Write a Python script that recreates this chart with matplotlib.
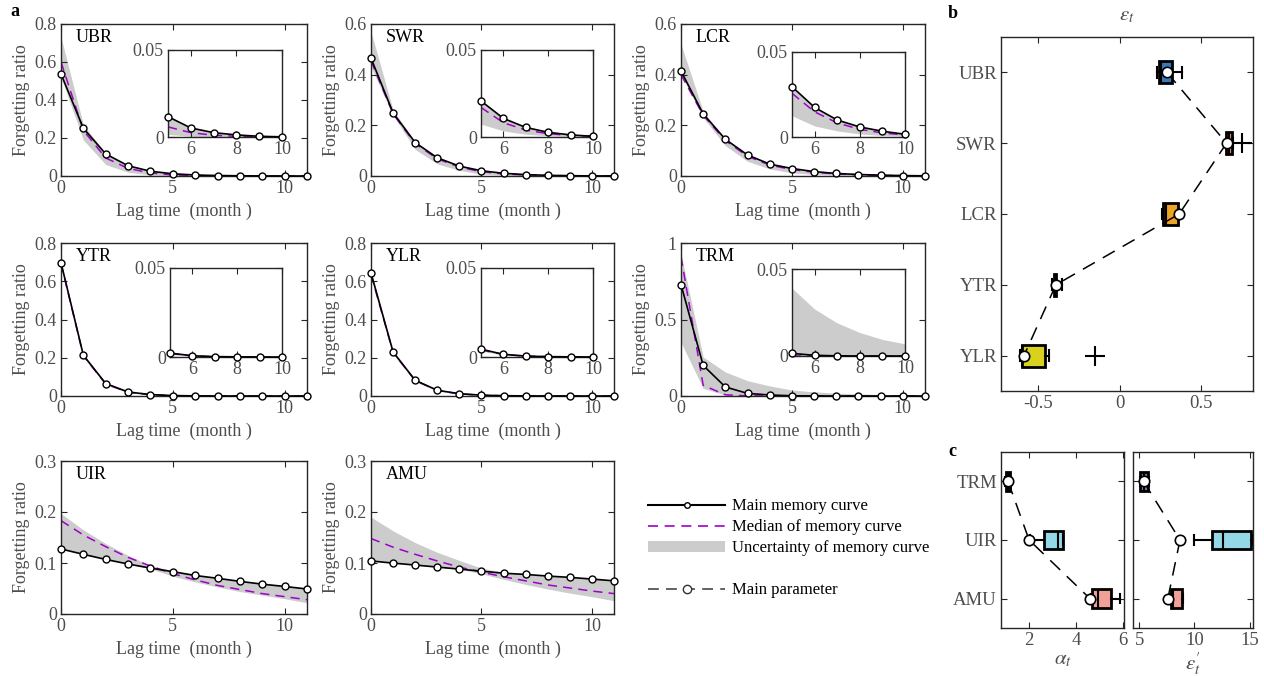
import numpy as np
import matplotlib
matplotlib.use('Agg')
import matplotlib.pyplot as plt
from matplotlib.lines import Line2D
from matplotlib.patches import Patch
from matplotlib.ticker import FuncFormatter

plt.rcParams['font.family'] = ['Liberation Serif', 'DejaVu Serif']
plt.rcParams['mathtext.fontset'] = 'stix'
plt.rcParams['axes.edgecolor'] = '#262626'
plt.rcParams['axes.linewidth'] = 1.0

TXT = '#4d4d4d'
BAND = '#cccccc'
PURPLE = '#a000c8'

months = np.arange(12)

# ---- panel a: memory curves (main, median, band low, band high) ----
ubr_main = [0.537, 0.251, 0.116, 0.054, 0.025, 0.0117, 0.0052, 0.0025, 0.0012, 0.0004, 0.0001, 0.0]
ubr_med = [0.60, 0.240, 0.095, 0.040, 0.016, 0.0058, 0.0025, 0.0010, 0.0004, 0.0002, 0.0001, 0.0]
ubr_lo = [0.52, 0.19, 0.06, 0.02, 0.006, 0.0015, 0.0004, 0.0001, 0.0, 0.0, 0.0, 0.0]
ubr_hi = [0.73, 0.27, 0.12, 0.056, 0.026, 0.012, 0.0055, 0.0026, 0.0012, 0.0005, 0.0002, 0.0001]

swr_main = [0.465, 0.249, 0.132, 0.072, 0.039, 0.0207, 0.0107, 0.0055, 0.0027, 0.0012, 0.0004, 0.0002]
swr_med = [0.455, 0.245, 0.128, 0.068, 0.035, 0.017, 0.0082, 0.0040, 0.0019, 0.0009, 0.0004, 0.0002]
swr_lo = [0.43, 0.24, 0.105, 0.048, 0.022, 0.0074, 0.0035, 0.0016, 0.0007, 0.0003, 0.0001, 0.0]
swr_hi = [0.57, 0.26, 0.135, 0.074, 0.040, 0.021, 0.011, 0.0056, 0.0028, 0.0013, 0.0005, 0.0002]

lcr_main = [0.414, 0.245, 0.145, 0.083, 0.047, 0.0296, 0.0174, 0.0100, 0.0059, 0.0034, 0.0016, 0.0007]
lcr_med = [0.40, 0.240, 0.140, 0.078, 0.043, 0.0257, 0.0148, 0.0083, 0.0045, 0.0024, 0.0012, 0.0006]
lcr_lo = [0.40, 0.23, 0.12, 0.058, 0.028, 0.0125, 0.0065, 0.0036, 0.0018, 0.0009, 0.0005, 0.0002]
lcr_hi = [0.52, 0.255, 0.146, 0.084, 0.048, 0.0297, 0.0175, 0.0101, 0.0060, 0.0035, 0.0017, 0.0008]

ytr_main = [0.697, 0.213, 0.065, 0.021, 0.0075, 0.0022, 0.0007, 0.0002, 0.0001, 0.0, 0.0, 0.0]
ytr_med = [0.693, 0.210, 0.063, 0.020, 0.0068, 0.0020, 0.0006, 0.0002, 0.0001, 0.0, 0.0, 0.0]
ytr_lo = [0.685, 0.203, 0.058, 0.017, 0.005, 0.0014, 0.0004, 0.0001, 0.0, 0.0, 0.0, 0.0]
ytr_hi = [0.705, 0.220, 0.070, 0.024, 0.0085, 0.0027, 0.0009, 0.0003, 0.0001, 0.0, 0.0, 0.0]

ylr_main = [0.643, 0.230, 0.082, 0.030, 0.012, 0.0044, 0.0015, 0.0005, 0.0002, 0.0001, 0.0, 0.0]
ylr_med = [0.635, 0.228, 0.081, 0.029, 0.011, 0.0040, 0.0014, 0.0005, 0.0002, 0.0001, 0.0, 0.0]
ylr_lo = [0.625, 0.220, 0.075, 0.026, 0.0095, 0.0033, 0.0011, 0.0004, 0.0001, 0.0, 0.0, 0.0]
ylr_hi = [0.655, 0.238, 0.088, 0.033, 0.013, 0.0050, 0.0018, 0.0006, 0.0002, 0.0001, 0.0, 0.0]

trm_main = [0.728, 0.200, 0.059, 0.017, 0.0065, 0.0015, 0.0004, 0.0001, 0.0, 0.0, 0.0, 0.0]
trm_med = [0.91, 0.070, 0.008, 0.001, 0.0001, 0.0, 0.0, 0.0, 0.0, 0.0, 0.0, 0.0]
trm_lo = [0.35, 0.05, 0.006, 0.0008, 0.0001, 0.0, 0.0, 0.0, 0.0, 0.0, 0.0, 0.0]
trm_hi = [0.93, 0.255, 0.157, 0.100, 0.066, 0.039, 0.027, 0.019, 0.0135, 0.0095, 0.007, 0.005]

uir_main = [0.1275, 0.117, 0.107, 0.098, 0.090, 0.083, 0.0755, 0.070, 0.064, 0.0585, 0.054, 0.049]
uir_med = [0.183, 0.155, 0.132, 0.111, 0.094, 0.079, 0.067, 0.056, 0.048, 0.040, 0.034, 0.028]
uir_lo = [0.1275, 0.117, 0.107, 0.098, 0.089, 0.074, 0.063, 0.053, 0.044, 0.037, 0.030, 0.022]
uir_hi = [0.197, 0.165, 0.138, 0.115, 0.095, 0.085, 0.077, 0.071, 0.065, 0.059, 0.055, 0.050]

amu_main = [0.104, 0.0998, 0.096, 0.092, 0.088, 0.084, 0.080, 0.0776, 0.0744, 0.0718, 0.0685, 0.065]
amu_med = [0.148, 0.131, 0.117, 0.104, 0.092, 0.082, 0.073, 0.065, 0.057, 0.051, 0.045, 0.040]
amu_lo = [0.104, 0.0998, 0.096, 0.092, 0.088, 0.079, 0.068, 0.058, 0.049, 0.041, 0.034, 0.026]
amu_hi = [0.190, 0.163, 0.140, 0.121, 0.105, 0.090, 0.082, 0.078, 0.075, 0.072, 0.069, 0.066]

# ---- panel b: epsilon_t ----
b_names = ['UBR', 'SWR', 'LCR', 'YTR', 'YLR']
b_colors = ['#3a78b8', '#f08a78', '#eda323', '#222222', '#d8d21e']
b_q1 = [0.240, 0.652, 0.265, -0.402, -0.600]
b_med = [0.256, 0.672, 0.283, -0.395, -0.595]
b_q3 = [0.320, 0.688, 0.355, -0.388, -0.455]
b_lo = [0.230, 0.650, 0.260, -0.415, -0.610]
b_hi = [0.385, 0.695, 0.360, -0.350, -0.430]
b_fliers = [[], [0.75], [], [], [-0.15]]
b_main = [0.290, 0.655, 0.365, -0.390, -0.585]

# ---- panel c: alpha_t and epsilon'_t ----
c_names = ['TRM', 'UIR', 'AMU']
c_colors = ['#2a2a2a', '#94d8e8', '#f0a096']
c2_colors = ['#6b7b9b', '#94d8e8', '#f0a096']
ca_q1 = [1.00, 2.62, 4.68]
ca_med = [1.10, 3.25, 4.95]
ca_q3 = [1.20, 3.45, 5.50]
ca_lo = [0.98, 2.05, 4.65]
ca_hi = [1.22, 3.45, 5.88]
ca_main = [1.10, 2.00, 4.60]
ce_q1 = [5.10, 11.6, 7.85]
ce_med = [5.45, 12.6, 8.10]
ce_q3 = [5.85, 15.1, 8.90]
ce_lo = [5.05, 10.0, 7.80]
ce_hi = [5.90, 15.2, 8.95]
ce_main = [5.40, 8.70, 7.60]

W, H = 1264, 676
fig = plt.figure(figsize=(W / 100, H / 100), dpi=100)


def box(x0, y0, x1, y1):
    return [x0 / W, 1 - y1 / H, (x1 - x0) / W, (y1 - y0) / H]


def style(ax, size=13):
    ax.tick_params(direction='in', top=True, right=True, length=4, width=0.8,
                   labelsize=size, labelcolor=TXT, colors='#262626', pad=3)
    for t in ax.get_xticklabels() + ax.get_yticklabels():
        t.set_color(TXT)


fmt = FuncFormatter(lambda v, p: '%g' % round(v, 3))

panels = [
    ('UBR', ubr_main, ubr_med, ubr_lo, ubr_hi, 0.8, [0, 0.2, 0.4, 0.6, 0.8], (61, 24, 307, 176), (168, 50, 282, 137)),
    ('SWR', swr_main, swr_med, swr_lo, swr_hi, 0.6, [0, 0.2, 0.4, 0.6], (371, 24, 614, 176), (481, 50, 593, 137)),
    ('LCR', lcr_main, lcr_med, lcr_lo, lcr_hi, 0.6, [0, 0.2, 0.4, 0.6], (681, 24, 925, 176), (792, 52, 905, 137)),
    ('YTR', ytr_main, ytr_med, ytr_lo, ytr_hi, 0.8, [0, 0.2, 0.4, 0.6, 0.8], (61, 243, 307, 396), (170, 268, 282, 357)),
    ('YLR', ylr_main, ylr_med, ylr_lo, ylr_hi, 0.8, [0, 0.2, 0.4, 0.6, 0.8], (371, 243, 614, 396), (481, 268, 593, 357)),
    ('TRM', trm_main, trm_med, trm_lo, trm_hi, 1.0, [0, 0.5, 1], (681, 243, 925, 396), (792, 269, 905, 356)),
    ('UIR', uir_main, uir_med, uir_lo, uir_hi, 0.3, [0, 0.1, 0.2, 0.3], (61, 461, 307, 614), None),
    ('AMU', amu_main, amu_med, amu_lo, amu_hi, 0.3, [0, 0.1, 0.2, 0.3], (371, 461, 614, 614), None),
]


def draw_curves(ax, main, med, lo, hi, xs):
    ax.fill_between(xs, np.array(lo)[xs], np.array(hi)[xs], color=BAND, lw=0)
    ax.plot(xs, np.array(med)[xs], color=PURPLE, lw=1.1, ls=(0, (6, 4)))
    ax.plot(xs, np.array(main)[xs], color='k', lw=1.2, marker='o', ms=5,
            mfc='white', mec='k', mew=1.0, clip_on=False, zorder=5)


for name, main, med, lo, hi, ymax, yt, pos, ipos in panels:
    ax = fig.add_axes(box(*pos))
    draw_curves(ax, main, med, lo, hi, months)
    ax.set_xlim(0, 11)
    ax.set_ylim(0, ymax)
    ax.set_xticks([0, 5, 10])
    ax.set_yticks(yt)
    ax.yaxis.set_major_formatter(fmt)
    style(ax)
    ax.set_ylabel('Forgetting ratio', fontsize=13, color=TXT, labelpad=3)
    ax.set_xlabel('Lag time  (month )', fontsize=13, color=TXT, labelpad=4)
    ax.text(0.06, 0.91, name, transform=ax.transAxes, fontsize=13, va='center', ha='left')
    if ipos is not None:
        ins = fig.add_axes(box(*ipos))
        draw_curves(ins, main, med, lo, hi, months[5:11])
        ins.set_xlim(5, 10)
        ins.set_ylim(0, 0.05)
        ins.set_xticks([6, 8, 10])
        ins.set_yticks([0, 0.05])
        ins.yaxis.set_major_formatter(fmt)
        style(ins)

# legend
handles = [
    Line2D([], [], color='k', lw=1.5, marker='o', ms=4, mfc='white', mec='k'),
    Line2D([], [], color=PURPLE, lw=1.2, ls=(0, (6, 4))),
    Patch(facecolor=BAND, edgecolor='none'),
    Line2D([], [], color='none'),
    Line2D([], [], color='#555555', lw=1.3, ls=(0, (6, 4)), marker='o', ms=6,
           mfc='white', mec='#333333'),
]
labels = ['Main memory curve', 'Median of memory curve', 'Uncertainty of memory curve', '',
          'Main parameter']
fig.legend(handles, labels, loc='upper left', bbox_to_anchor=(640 / W, 1 - 490 / H),
           frameon=False, fontsize=12, handlelength=4.6, numpoints=1,
           labelspacing=0.3, handletextpad=0.4, borderpad=0)


def stats(q1, med, q3, lo, hi, fl=None):
    out = []
    for i in range(len(q1)):
        out.append(dict(q1=q1[i], med=med[i], q3=q3[i], whislo=lo[i], whishi=hi[i],
                        fliers=(fl[i] if fl else [])))
    return out


def draw_box(ax, st, colors, main, width):
    pos = np.arange(1, len(st) + 1)
    bp = ax.bxp(st, positions=pos, vert=False, widths=width, patch_artist=True,
                showfliers=True,
                boxprops=dict(linewidth=2.0, edgecolor='k'),
                medianprops=dict(color='k', linewidth=1.5),
                whiskerprops=dict(color='k', linewidth=1.5),
                capprops=dict(color='k', linewidth=1.5),
                flierprops=dict(marker='+', markersize=14, markeredgecolor='k',
                                markeredgewidth=1.5))
    for p, c in zip(bp['boxes'], colors):
        p.set_facecolor(c)
    ax.plot(main, pos, color='k', lw=1.1, ls=(0, (9, 6)), marker='o', ms=7.5,
            mfc='white', mec='k', mew=1.2, zorder=6)


axb = fig.add_axes(box(1001, 37, 1253, 391))
draw_box(axb, stats(b_q1, b_med, b_q3, b_lo, b_hi, b_fliers), b_colors, b_main, 0.31)
axb.set_ylim(5.5, 0.5)
axb.set_xlim(-0.726, 0.817)
axb.set_xticks([-0.5, 0, 0.5])
axb.set_yticks(np.arange(1, 6))
axb.set_yticklabels(b_names)
axb.xaxis.set_major_formatter(fmt)
style(axb, 13.5)
axb.set_title(r'$\varepsilon_t$', fontsize=15, color=TXT, pad=12)

axc1 = fig.add_axes(box(1001, 452, 1124, 628))
draw_box(axc1, stats(ca_q1, ca_med, ca_q3, ca_lo, ca_hi), c_colors, ca_main, 0.32)
axc1.set_ylim(3.5, 0.5)
axc1.set_xlim(0.8, 6.05)
axc1.set_xticks([2, 4, 6])
axc1.set_yticks([1, 2, 3])
axc1.set_yticklabels(c_names)
style(axc1, 13.5)
axc1.set_xlabel(r'$\alpha_t$', fontsize=15, color=TXT, labelpad=1)

axc2 = fig.add_axes(box(1133, 452, 1253, 628))
draw_box(axc2, stats(ce_q1, ce_med, ce_q3, ce_lo, ce_hi), c2_colors, ce_main, 0.32)
axc2.set_ylim(3.5, 0.5)
axc2.set_xlim(4.45, 15.3)
axc2.set_xticks([5, 10, 15])
axc2.set_yticks([1, 2, 3])
axc2.set_yticklabels([])
style(axc2, 13.5)
axc2.set_xlabel(r"$\varepsilon^{\prime}_{t}$", fontsize=15, color=TXT, labelpad=1)

fig.text(10 / W, 1 - 12 / H, 'a', fontsize=13, fontweight='bold', va='center')
fig.text(948 / W, 1 - 14 / H, 'b', fontsize=13, fontweight='bold', va='center')
fig.text(948 / W, 1 - 452 / H, 'c', fontsize=13, fontweight='bold', va='center')

fig.savefig('out.png', dpi=100)
